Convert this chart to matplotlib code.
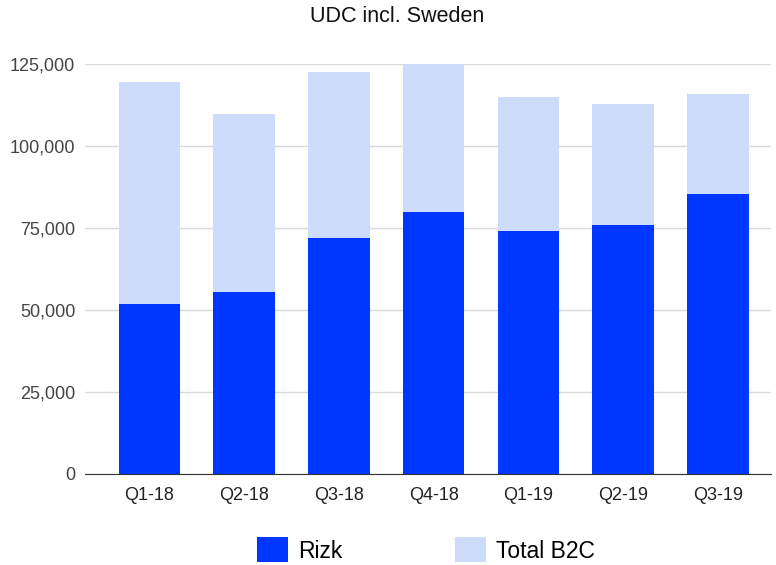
import matplotlib
matplotlib.use("Agg")
import matplotlib.pyplot as plt
from matplotlib.ticker import FuncFormatter

plt.rcParams["font.family"] = ["Liberation Sans", "DejaVu Sans"]

quarters = ["Q1-18", "Q2-18", "Q3-18", "Q4-18", "Q1-19", "Q2-19", "Q3-19"]
total_b2c = [119500, 109800, 122600, 127000, 115000, 112800, 115900]
rizk = [51800, 55500, 72000, 79900, 74100, 75900, 85400]

RIZK_COLOR = "#0037ff"
B2C_COLOR = "#cddcfb"

fig = plt.figure(figsize=(7.76, 5.65), dpi=100)
ax = fig.add_axes([85 / 776, 91 / 565, 686 / 776, 410 / 565])

x = list(range(len(quarters)))
# light bar = remainder of total above Rizk
ax.bar(x, [t - r for t, r in zip(total_b2c, rizk)], bottom=rizk, width=0.65,
       color=B2C_COLOR, label="Total B2C", zorder=2)
ax.bar(x, rizk, width=0.65, color=RIZK_COLOR, label="Rizk", zorder=3)

ax.set_ylim(0, 125000)
ax.set_xlim(-0.68, 6.56)
ax.set_yticks(range(0, 125001, 25000))
ax.yaxis.set_major_formatter(FuncFormatter(lambda v, p: f"{int(v):,}"))
ax.set_xticks(x)
ax.set_xticklabels(quarters)
ax.tick_params(axis="both", length=0, labelsize=13, colors="#222222")
ax.tick_params(axis="y", labelcolor="#444444", pad=7)
ax.tick_params(axis="x", pad=9)
ax.grid(axis="y", color="#d9d9d9", linewidth=1, zorder=0)
for s in ["top", "right", "left"]:
    ax.spines[s].set_visible(False)
ax.spines["bottom"].set_color("#333333")
ax.spines["bottom"].set_zorder(4)

fig.text(397 / 776, 1 - 17 / 565, "UDC incl. Sweden", ha="center", va="center",
         fontsize=15.5, color="#111111")

handles, labels = ax.get_legend_handles_labels()
fig.legend(handles[::-1], labels[::-1], loc="center", ncol=2,
           bbox_to_anchor=(426 / 776, 1 - 550 / 565), frameon=False,
           fontsize=16.5, handlelength=1.35, handleheight=1.3,
           handletextpad=0.45, columnspacing=4.9)

fig.savefig("out.png", dpi=100)
